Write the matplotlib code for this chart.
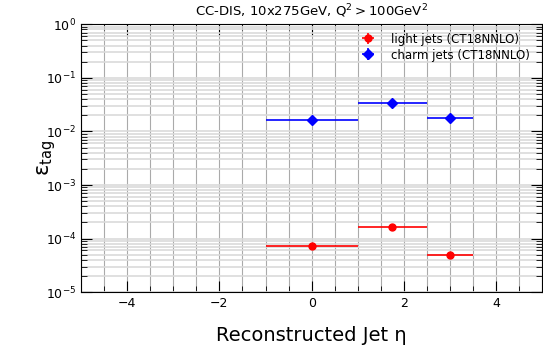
import matplotlib
matplotlib.use("Agg")
import matplotlib.pyplot as plt
from matplotlib.ticker import MultipleLocator, LogLocator, NullFormatter

# bins in reconstructed jet eta
eta_center = [0.0, 1.75, 3.0]
eta_halfwidth = [1.0, 0.75, 0.5]

eff_light = [7.3e-5, 1.65e-4, 5.0e-5]
eff_charm = [0.0167, 0.034, 0.0179]

fig = plt.figure(figsize=(5.43, 3.47), dpi=100)
ax = fig.add_axes([0.149, 0.158, 0.85, 0.772])

ax.errorbar(eta_center, eff_light, xerr=eta_halfwidth, yerr=[0, 0, 0],
            fmt="o", color="red", ms=5, elinewidth=1.2,
            label="light jets (CT18NNLO)")
ax.errorbar(eta_center, eff_charm, xerr=eta_halfwidth, yerr=[0, 0, 0],
            fmt="D", color="blue", ms=5, elinewidth=1.2,
            label="charm jets (CT18NNLO)")

ax.set_yscale("log")
ax.set_xlim(-5, 5)
ax.set_ylim(1e-5, 1)

ax.xaxis.set_major_locator(MultipleLocator(2))
ax.xaxis.set_minor_locator(MultipleLocator(0.5))
ax.yaxis.set_major_locator(LogLocator(base=10, numticks=10))
ax.yaxis.set_minor_locator(LogLocator(base=10, subs=range(2, 10), numticks=20))
ax.yaxis.set_minor_formatter(NullFormatter())

ax.tick_params(which="both", direction="in", top=True, right=True, labelsize=9)
ax.tick_params(which="major", length=8)
ax.tick_params(which="minor", length=4)

ax.grid(True, axis="x", which="both", color="#aaaaaa", lw=0.8)
ax.grid(True, axis="y", which="both", color="#dadada", lw=1.2)
ax.set_axisbelow(True)

ax.set_title("CC-DIS, 10x275GeV, Q$^2 > $100GeV$^2$", fontsize=9.5)
ax.set_xlabel("Reconstructed Jet η", fontsize=14)
ax.xaxis.set_label_coords(0.5, -0.125)
ax.set_ylabel("ε$_{\\mathrm{tag}}$", fontsize=15)
ax.yaxis.set_label_coords(-0.05, 0.5)

ax.legend(loc="upper right", frameon=False, fontsize=8.5, handletextpad=0.9,
          labelspacing=0.25, borderaxespad=0.3, bbox_to_anchor=(0.99, 1.0))

plt.savefig("out.png", dpi=100)
